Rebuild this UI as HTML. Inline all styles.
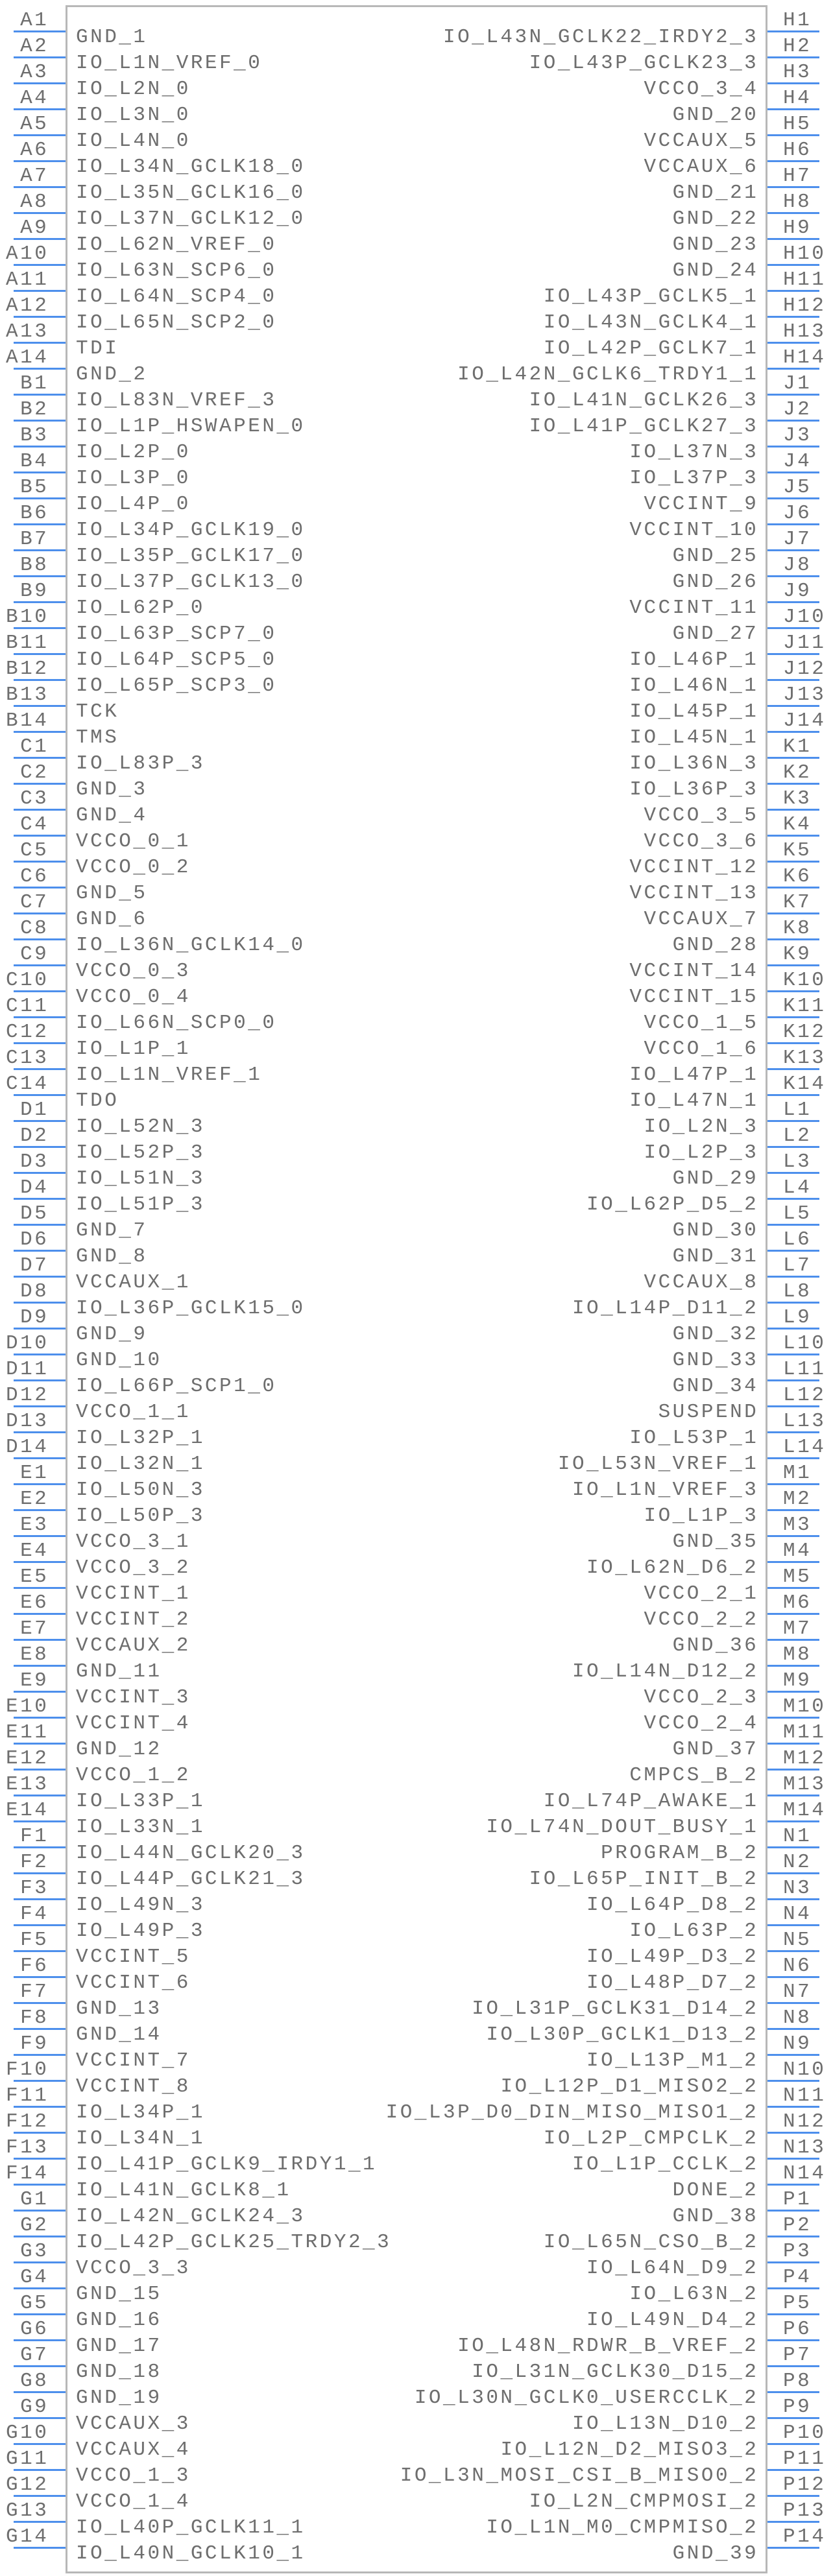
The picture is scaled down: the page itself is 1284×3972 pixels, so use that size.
<!DOCTYPE html>
<html><head><meta charset="utf-8"><style>
html,body{margin:0;padding:0;background:#fff}
svg{display:block}
text{font-family:"Liberation Mono",monospace;font-size:31px;letter-spacing:3.5px;fill:#6e6e6e}
.e{text-anchor:end}
</style></head><body>
<svg width="1284" height="3972" viewBox="0 0 1284 3972" xmlns="http://www.w3.org/2000/svg">
<defs><pattern id="p" x="0" y="47" width="10" height="40" patternUnits="userSpaceOnUse"><rect x="0" y="0" width="10" height="3" fill="#4d8fec"/></pattern></defs>
<rect x="21" y="47" width="80" height="3884" fill="url(#p)"/>
<rect x="1182" y="47" width="81" height="3884" fill="url(#p)"/>
<rect x="102.5" y="9.5" width="1079" height="3957" fill="none" stroke="#b8b8b8" stroke-width="3"/>
<g>
<text class="e" x="75.3" y="39">A1</text><text class="e" x="75.3" y="79">A2</text><text class="e" x="75.3" y="119">A3</text><text class="e" x="75.3" y="159">A4</text><text class="e" x="75.3" y="199">A5</text><text class="e" x="75.3" y="239">A6</text><text class="e" x="75.3" y="279">A7</text><text class="e" x="75.3" y="319">A8</text><text class="e" x="75.3" y="359">A9</text><text class="e" x="75.3" y="399">A10</text><text class="e" x="75.3" y="439">A11</text><text class="e" x="75.3" y="479">A12</text><text class="e" x="75.3" y="519">A13</text><text class="e" x="75.3" y="559">A14</text>
<text class="e" x="75.3" y="599">B1</text><text class="e" x="75.3" y="639">B2</text><text class="e" x="75.3" y="679">B3</text><text class="e" x="75.3" y="719">B4</text><text class="e" x="75.3" y="759">B5</text><text class="e" x="75.3" y="799">B6</text><text class="e" x="75.3" y="839">B7</text><text class="e" x="75.3" y="879">B8</text><text class="e" x="75.3" y="919">B9</text><text class="e" x="75.3" y="959">B10</text><text class="e" x="75.3" y="999">B11</text><text class="e" x="75.3" y="1039">B12</text><text class="e" x="75.3" y="1079">B13</text><text class="e" x="75.3" y="1119">B14</text>
<text class="e" x="75.3" y="1159">C1</text><text class="e" x="75.3" y="1199">C2</text><text class="e" x="75.3" y="1239">C3</text><text class="e" x="75.3" y="1279">C4</text><text class="e" x="75.3" y="1319">C5</text><text class="e" x="75.3" y="1359">C6</text><text class="e" x="75.3" y="1399">C7</text><text class="e" x="75.3" y="1439">C8</text><text class="e" x="75.3" y="1479">C9</text><text class="e" x="75.3" y="1519">C10</text><text class="e" x="75.3" y="1559">C11</text><text class="e" x="75.3" y="1599">C12</text><text class="e" x="75.3" y="1639">C13</text><text class="e" x="75.3" y="1679">C14</text>
<text class="e" x="75.3" y="1719">D1</text><text class="e" x="75.3" y="1759">D2</text><text class="e" x="75.3" y="1799">D3</text><text class="e" x="75.3" y="1839">D4</text><text class="e" x="75.3" y="1879">D5</text><text class="e" x="75.3" y="1919">D6</text><text class="e" x="75.3" y="1959">D7</text><text class="e" x="75.3" y="1999">D8</text><text class="e" x="75.3" y="2039">D9</text><text class="e" x="75.3" y="2079">D10</text><text class="e" x="75.3" y="2119">D11</text><text class="e" x="75.3" y="2159">D12</text><text class="e" x="75.3" y="2199">D13</text><text class="e" x="75.3" y="2239">D14</text>
<text class="e" x="75.3" y="2279">E1</text><text class="e" x="75.3" y="2319">E2</text><text class="e" x="75.3" y="2359">E3</text><text class="e" x="75.3" y="2399">E4</text><text class="e" x="75.3" y="2439">E5</text><text class="e" x="75.3" y="2479">E6</text><text class="e" x="75.3" y="2519">E7</text><text class="e" x="75.3" y="2559">E8</text><text class="e" x="75.3" y="2599">E9</text><text class="e" x="75.3" y="2639">E10</text><text class="e" x="75.3" y="2679">E11</text><text class="e" x="75.3" y="2719">E12</text><text class="e" x="75.3" y="2759">E13</text><text class="e" x="75.3" y="2799">E14</text>
<text class="e" x="75.3" y="2839">F1</text><text class="e" x="75.3" y="2879">F2</text><text class="e" x="75.3" y="2919">F3</text><text class="e" x="75.3" y="2959">F4</text><text class="e" x="75.3" y="2999">F5</text><text class="e" x="75.3" y="3039">F6</text><text class="e" x="75.3" y="3079">F7</text><text class="e" x="75.3" y="3119">F8</text><text class="e" x="75.3" y="3159">F9</text><text class="e" x="75.3" y="3199">F10</text><text class="e" x="75.3" y="3239">F11</text><text class="e" x="75.3" y="3279">F12</text><text class="e" x="75.3" y="3319">F13</text><text class="e" x="75.3" y="3359">F14</text>
<text class="e" x="75.3" y="3399">G1</text><text class="e" x="75.3" y="3439">G2</text><text class="e" x="75.3" y="3479">G3</text><text class="e" x="75.3" y="3519">G4</text><text class="e" x="75.3" y="3559">G5</text><text class="e" x="75.3" y="3599">G6</text><text class="e" x="75.3" y="3639">G7</text><text class="e" x="75.3" y="3679">G8</text><text class="e" x="75.3" y="3719">G9</text><text class="e" x="75.3" y="3759">G10</text><text class="e" x="75.3" y="3799">G11</text><text class="e" x="75.3" y="3839">G12</text><text class="e" x="75.3" y="3879">G13</text><text class="e" x="75.3" y="3919">G14</text>
</g>
<g>
<text x="117" y="65">GND_1</text><text x="117" y="105">IO_L1N_VREF_0</text><text x="117" y="145">IO_L2N_0</text><text x="117" y="185">IO_L3N_0</text><text x="117" y="225">IO_L4N_0</text><text x="117" y="265">IO_L34N_GCLK18_0</text><text x="117" y="305">IO_L35N_GCLK16_0</text><text x="117" y="345">IO_L37N_GCLK12_0</text><text x="117" y="385">IO_L62N_VREF_0</text><text x="117" y="425">IO_L63N_SCP6_0</text><text x="117" y="465">IO_L64N_SCP4_0</text><text x="117" y="505">IO_L65N_SCP2_0</text><text x="117" y="545">TDI</text><text x="117" y="585">GND_2</text>
<text x="117" y="625">IO_L83N_VREF_3</text><text x="117" y="665">IO_L1P_HSWAPEN_0</text><text x="117" y="705">IO_L2P_0</text><text x="117" y="745">IO_L3P_0</text><text x="117" y="785">IO_L4P_0</text><text x="117" y="825">IO_L34P_GCLK19_0</text><text x="117" y="865">IO_L35P_GCLK17_0</text><text x="117" y="905">IO_L37P_GCLK13_0</text><text x="117" y="945">IO_L62P_0</text><text x="117" y="985">IO_L63P_SCP7_0</text><text x="117" y="1025">IO_L64P_SCP5_0</text><text x="117" y="1065">IO_L65P_SCP3_0</text><text x="117" y="1105">TCK</text><text x="117" y="1145">TMS</text>
<text x="117" y="1185">IO_L83P_3</text><text x="117" y="1225">GND_3</text><text x="117" y="1265">GND_4</text><text x="117" y="1305">VCCO_0_1</text><text x="117" y="1345">VCCO_0_2</text><text x="117" y="1385">GND_5</text><text x="117" y="1425">GND_6</text><text x="117" y="1465">IO_L36N_GCLK14_0</text><text x="117" y="1505">VCCO_0_3</text><text x="117" y="1545">VCCO_0_4</text><text x="117" y="1585">IO_L66N_SCP0_0</text><text x="117" y="1625">IO_L1P_1</text><text x="117" y="1665">IO_L1N_VREF_1</text><text x="117" y="1705">TDO</text>
<text x="117" y="1745">IO_L52N_3</text><text x="117" y="1785">IO_L52P_3</text><text x="117" y="1825">IO_L51N_3</text><text x="117" y="1865">IO_L51P_3</text><text x="117" y="1905">GND_7</text><text x="117" y="1945">GND_8</text><text x="117" y="1985">VCCAUX_1</text><text x="117" y="2025">IO_L36P_GCLK15_0</text><text x="117" y="2065">GND_9</text><text x="117" y="2105">GND_10</text><text x="117" y="2145">IO_L66P_SCP1_0</text><text x="117" y="2185">VCCO_1_1</text><text x="117" y="2225">IO_L32P_1</text><text x="117" y="2265">IO_L32N_1</text>
<text x="117" y="2305">IO_L50N_3</text><text x="117" y="2345">IO_L50P_3</text><text x="117" y="2385">VCCO_3_1</text><text x="117" y="2425">VCCO_3_2</text><text x="117" y="2465">VCCINT_1</text><text x="117" y="2505">VCCINT_2</text><text x="117" y="2545">VCCAUX_2</text><text x="117" y="2585">GND_11</text><text x="117" y="2625">VCCINT_3</text><text x="117" y="2665">VCCINT_4</text><text x="117" y="2705">GND_12</text><text x="117" y="2745">VCCO_1_2</text><text x="117" y="2785">IO_L33P_1</text><text x="117" y="2825">IO_L33N_1</text>
<text x="117" y="2865">IO_L44N_GCLK20_3</text><text x="117" y="2905">IO_L44P_GCLK21_3</text><text x="117" y="2945">IO_L49N_3</text><text x="117" y="2985">IO_L49P_3</text><text x="117" y="3025">VCCINT_5</text><text x="117" y="3065">VCCINT_6</text><text x="117" y="3105">GND_13</text><text x="117" y="3145">GND_14</text><text x="117" y="3185">VCCINT_7</text><text x="117" y="3225">VCCINT_8</text><text x="117" y="3265">IO_L34P_1</text><text x="117" y="3305">IO_L34N_1</text><text x="117" y="3345">IO_L41P_GCLK9_IRDY1_1</text><text x="117" y="3385">IO_L41N_GCLK8_1</text>
<text x="117" y="3425">IO_L42N_GCLK24_3</text><text x="117" y="3465">IO_L42P_GCLK25_TRDY2_3</text><text x="117" y="3505">VCCO_3_3</text><text x="117" y="3545">GND_15</text><text x="117" y="3585">GND_16</text><text x="117" y="3625">GND_17</text><text x="117" y="3665">GND_18</text><text x="117" y="3705">GND_19</text><text x="117" y="3745">VCCAUX_3</text><text x="117" y="3785">VCCAUX_4</text><text x="117" y="3825">VCCO_1_3</text><text x="117" y="3865">VCCO_1_4</text><text x="117" y="3905">IO_L40P_GCLK11_1</text><text x="117" y="3945">IO_L40N_GCLK10_1</text>
</g>
<g>
<text x="1207" y="39">H1</text><text x="1207" y="79">H2</text><text x="1207" y="119">H3</text><text x="1207" y="159">H4</text><text x="1207" y="199">H5</text><text x="1207" y="239">H6</text><text x="1207" y="279">H7</text><text x="1207" y="319">H8</text><text x="1207" y="359">H9</text><text x="1207" y="399">H10</text><text x="1207" y="439">H11</text><text x="1207" y="479">H12</text><text x="1207" y="519">H13</text><text x="1207" y="559">H14</text>
<text x="1207" y="599">J1</text><text x="1207" y="639">J2</text><text x="1207" y="679">J3</text><text x="1207" y="719">J4</text><text x="1207" y="759">J5</text><text x="1207" y="799">J6</text><text x="1207" y="839">J7</text><text x="1207" y="879">J8</text><text x="1207" y="919">J9</text><text x="1207" y="959">J10</text><text x="1207" y="999">J11</text><text x="1207" y="1039">J12</text><text x="1207" y="1079">J13</text><text x="1207" y="1119">J14</text>
<text x="1207" y="1159">K1</text><text x="1207" y="1199">K2</text><text x="1207" y="1239">K3</text><text x="1207" y="1279">K4</text><text x="1207" y="1319">K5</text><text x="1207" y="1359">K6</text><text x="1207" y="1399">K7</text><text x="1207" y="1439">K8</text><text x="1207" y="1479">K9</text><text x="1207" y="1519">K10</text><text x="1207" y="1559">K11</text><text x="1207" y="1599">K12</text><text x="1207" y="1639">K13</text><text x="1207" y="1679">K14</text>
<text x="1207" y="1719">L1</text><text x="1207" y="1759">L2</text><text x="1207" y="1799">L3</text><text x="1207" y="1839">L4</text><text x="1207" y="1879">L5</text><text x="1207" y="1919">L6</text><text x="1207" y="1959">L7</text><text x="1207" y="1999">L8</text><text x="1207" y="2039">L9</text><text x="1207" y="2079">L10</text><text x="1207" y="2119">L11</text><text x="1207" y="2159">L12</text><text x="1207" y="2199">L13</text><text x="1207" y="2239">L14</text>
<text x="1207" y="2279">M1</text><text x="1207" y="2319">M2</text><text x="1207" y="2359">M3</text><text x="1207" y="2399">M4</text><text x="1207" y="2439">M5</text><text x="1207" y="2479">M6</text><text x="1207" y="2519">M7</text><text x="1207" y="2559">M8</text><text x="1207" y="2599">M9</text><text x="1207" y="2639">M10</text><text x="1207" y="2679">M11</text><text x="1207" y="2719">M12</text><text x="1207" y="2759">M13</text><text x="1207" y="2799">M14</text>
<text x="1207" y="2839">N1</text><text x="1207" y="2879">N2</text><text x="1207" y="2919">N3</text><text x="1207" y="2959">N4</text><text x="1207" y="2999">N5</text><text x="1207" y="3039">N6</text><text x="1207" y="3079">N7</text><text x="1207" y="3119">N8</text><text x="1207" y="3159">N9</text><text x="1207" y="3199">N10</text><text x="1207" y="3239">N11</text><text x="1207" y="3279">N12</text><text x="1207" y="3319">N13</text><text x="1207" y="3359">N14</text>
<text x="1207" y="3399">P1</text><text x="1207" y="3439">P2</text><text x="1207" y="3479">P3</text><text x="1207" y="3519">P4</text><text x="1207" y="3559">P5</text><text x="1207" y="3599">P6</text><text x="1207" y="3639">P7</text><text x="1207" y="3679">P8</text><text x="1207" y="3719">P9</text><text x="1207" y="3759">P10</text><text x="1207" y="3799">P11</text><text x="1207" y="3839">P12</text><text x="1207" y="3879">P13</text><text x="1207" y="3919">P14</text>
</g>
<g>
<text class="e" x="1169.3" y="65">IO_L43N_GCLK22_IRDY2_3</text><text class="e" x="1169.3" y="105">IO_L43P_GCLK23_3</text><text class="e" x="1169.3" y="145">VCCO_3_4</text><text class="e" x="1169.3" y="185">GND_20</text><text class="e" x="1169.3" y="225">VCCAUX_5</text><text class="e" x="1169.3" y="265">VCCAUX_6</text><text class="e" x="1169.3" y="305">GND_21</text><text class="e" x="1169.3" y="345">GND_22</text><text class="e" x="1169.3" y="385">GND_23</text><text class="e" x="1169.3" y="425">GND_24</text><text class="e" x="1169.3" y="465">IO_L43P_GCLK5_1</text><text class="e" x="1169.3" y="505">IO_L43N_GCLK4_1</text><text class="e" x="1169.3" y="545">IO_L42P_GCLK7_1</text><text class="e" x="1169.3" y="585">IO_L42N_GCLK6_TRDY1_1</text>
<text class="e" x="1169.3" y="625">IO_L41N_GCLK26_3</text><text class="e" x="1169.3" y="665">IO_L41P_GCLK27_3</text><text class="e" x="1169.3" y="705">IO_L37N_3</text><text class="e" x="1169.3" y="745">IO_L37P_3</text><text class="e" x="1169.3" y="785">VCCINT_9</text><text class="e" x="1169.3" y="825">VCCINT_10</text><text class="e" x="1169.3" y="865">GND_25</text><text class="e" x="1169.3" y="905">GND_26</text><text class="e" x="1169.3" y="945">VCCINT_11</text><text class="e" x="1169.3" y="985">GND_27</text><text class="e" x="1169.3" y="1025">IO_L46P_1</text><text class="e" x="1169.3" y="1065">IO_L46N_1</text><text class="e" x="1169.3" y="1105">IO_L45P_1</text><text class="e" x="1169.3" y="1145">IO_L45N_1</text>
<text class="e" x="1169.3" y="1185">IO_L36N_3</text><text class="e" x="1169.3" y="1225">IO_L36P_3</text><text class="e" x="1169.3" y="1265">VCCO_3_5</text><text class="e" x="1169.3" y="1305">VCCO_3_6</text><text class="e" x="1169.3" y="1345">VCCINT_12</text><text class="e" x="1169.3" y="1385">VCCINT_13</text><text class="e" x="1169.3" y="1425">VCCAUX_7</text><text class="e" x="1169.3" y="1465">GND_28</text><text class="e" x="1169.3" y="1505">VCCINT_14</text><text class="e" x="1169.3" y="1545">VCCINT_15</text><text class="e" x="1169.3" y="1585">VCCO_1_5</text><text class="e" x="1169.3" y="1625">VCCO_1_6</text><text class="e" x="1169.3" y="1665">IO_L47P_1</text><text class="e" x="1169.3" y="1705">IO_L47N_1</text>
<text class="e" x="1169.3" y="1745">IO_L2N_3</text><text class="e" x="1169.3" y="1785">IO_L2P_3</text><text class="e" x="1169.3" y="1825">GND_29</text><text class="e" x="1169.3" y="1865">IO_L62P_D5_2</text><text class="e" x="1169.3" y="1905">GND_30</text><text class="e" x="1169.3" y="1945">GND_31</text><text class="e" x="1169.3" y="1985">VCCAUX_8</text><text class="e" x="1169.3" y="2025">IO_L14P_D11_2</text><text class="e" x="1169.3" y="2065">GND_32</text><text class="e" x="1169.3" y="2105">GND_33</text><text class="e" x="1169.3" y="2145">GND_34</text><text class="e" x="1169.3" y="2185">SUSPEND</text><text class="e" x="1169.3" y="2225">IO_L53P_1</text><text class="e" x="1169.3" y="2265">IO_L53N_VREF_1</text>
<text class="e" x="1169.3" y="2305">IO_L1N_VREF_3</text><text class="e" x="1169.3" y="2345">IO_L1P_3</text><text class="e" x="1169.3" y="2385">GND_35</text><text class="e" x="1169.3" y="2425">IO_L62N_D6_2</text><text class="e" x="1169.3" y="2465">VCCO_2_1</text><text class="e" x="1169.3" y="2505">VCCO_2_2</text><text class="e" x="1169.3" y="2545">GND_36</text><text class="e" x="1169.3" y="2585">IO_L14N_D12_2</text><text class="e" x="1169.3" y="2625">VCCO_2_3</text><text class="e" x="1169.3" y="2665">VCCO_2_4</text><text class="e" x="1169.3" y="2705">GND_37</text><text class="e" x="1169.3" y="2745">CMPCS_B_2</text><text class="e" x="1169.3" y="2785">IO_L74P_AWAKE_1</text><text class="e" x="1169.3" y="2825">IO_L74N_DOUT_BUSY_1</text>
<text class="e" x="1169.3" y="2865">PROGRAM_B_2</text><text class="e" x="1169.3" y="2905">IO_L65P_INIT_B_2</text><text class="e" x="1169.3" y="2945">IO_L64P_D8_2</text><text class="e" x="1169.3" y="2985">IO_L63P_2</text><text class="e" x="1169.3" y="3025">IO_L49P_D3_2</text><text class="e" x="1169.3" y="3065">IO_L48P_D7_2</text><text class="e" x="1169.3" y="3105">IO_L31P_GCLK31_D14_2</text><text class="e" x="1169.3" y="3145">IO_L30P_GCLK1_D13_2</text><text class="e" x="1169.3" y="3185">IO_L13P_M1_2</text><text class="e" x="1169.3" y="3225">IO_L12P_D1_MISO2_2</text><text class="e" x="1169.3" y="3265">IO_L3P_D0_DIN_MISO_MISO1_2</text><text class="e" x="1169.3" y="3305">IO_L2P_CMPCLK_2</text><text class="e" x="1169.3" y="3345">IO_L1P_CCLK_2</text><text class="e" x="1169.3" y="3385">DONE_2</text>
<text class="e" x="1169.3" y="3425">GND_38</text><text class="e" x="1169.3" y="3465">IO_L65N_CSO_B_2</text><text class="e" x="1169.3" y="3505">IO_L64N_D9_2</text><text class="e" x="1169.3" y="3545">IO_L63N_2</text><text class="e" x="1169.3" y="3585">IO_L49N_D4_2</text><text class="e" x="1169.3" y="3625">IO_L48N_RDWR_B_VREF_2</text><text class="e" x="1169.3" y="3665">IO_L31N_GCLK30_D15_2</text><text class="e" x="1169.3" y="3705">IO_L30N_GCLK0_USERCCLK_2</text><text class="e" x="1169.3" y="3745">IO_L13N_D10_2</text><text class="e" x="1169.3" y="3785">IO_L12N_D2_MISO3_2</text><text class="e" x="1169.3" y="3825">IO_L3N_MOSI_CSI_B_MISO0_2</text><text class="e" x="1169.3" y="3865">IO_L2N_CMPMOSI_2</text><text class="e" x="1169.3" y="3905">IO_L1N_M0_CMPMISO_2</text><text class="e" x="1169.3" y="3945">GND_39</text>
</g>
</svg>
</body></html>
